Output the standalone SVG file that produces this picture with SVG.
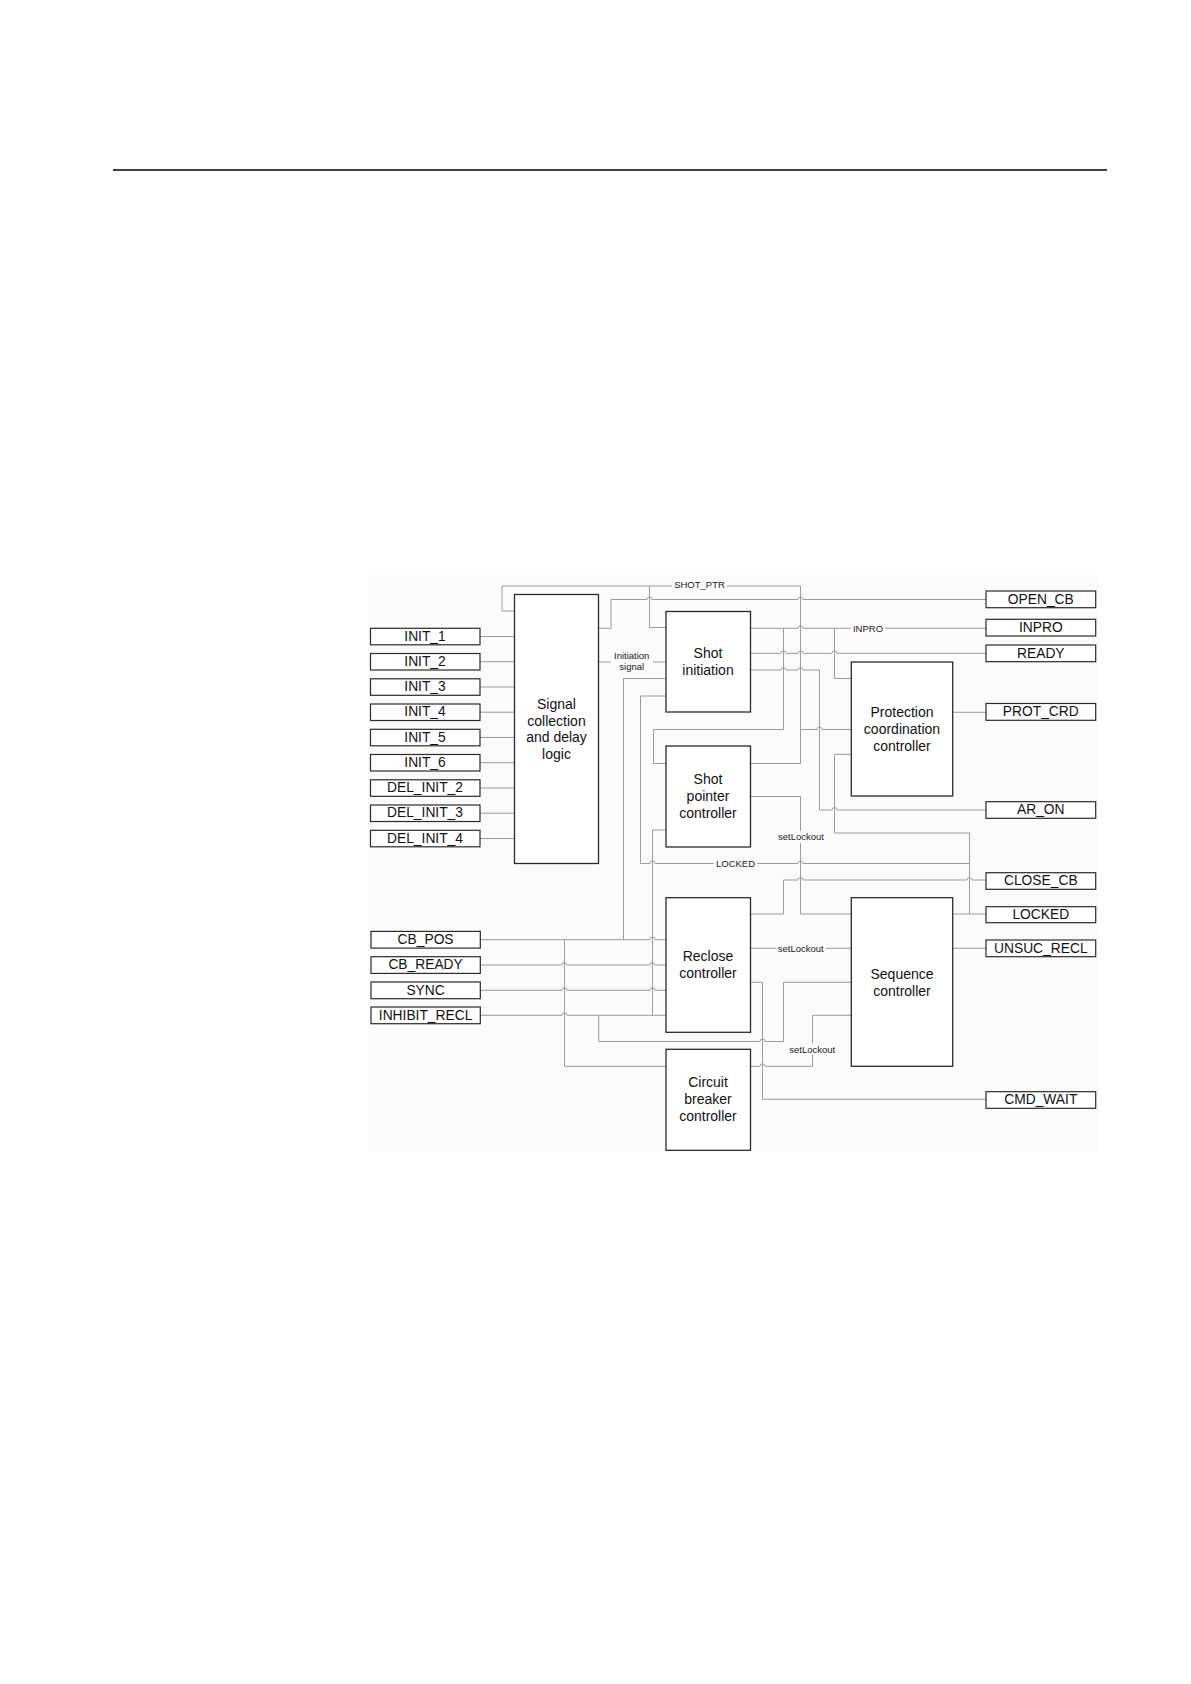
<svg xmlns="http://www.w3.org/2000/svg" width="1191" height="1684" viewBox="0 0 1191 1684">
<style>
.t{font-family:"Liberation Sans",Arial,sans-serif;font-size:14px;fill:#111;text-anchor:middle}
.io-t{font-family:"Liberation Sans",Arial,sans-serif;font-size:13.8px;fill:#111;text-anchor:middle}
.s{font-family:"Liberation Sans",Arial,sans-serif;font-size:9.5px;fill:#222;text-anchor:middle}
.blk{fill:#fff;stroke:#2a2a2a;stroke-width:1.3}
.io{fill:#fff;stroke:#2a2a2a;stroke-width:1.2}
.w{fill:none;stroke:#9c9c9c;stroke-width:1}
.bg{fill:#fbfbfb}
</style>
<rect width="1191" height="1684" fill="#fff"/>
<line x1="113" y1="170" x2="1107" y2="170" stroke="#000" stroke-width="1.6"/>
<rect class="bg" x="368" y="575" width="730" height="577"/>

<g id="connectors">
<path class="w" d="M480 636.5H514.5M480 661.7H514.5M480 687H514.5M480 712.2H514.5M480 737.5H514.5M480 762.7H514.5M480 788H514.5M480 813.2H514.5M480 838.5H514.5"/>
<path class="w" d="M750.5 763.5H800.5V586H502V611H514.5"/>
<path class="w" d="M649.5 586V627.5H666"/>
<path class="w" d="M800.5 729.5H817a2.5 2.5 0 0 1 5 0H851.3"/>
<path class="w" d="M598.7 628.3H611V599.5H647a2.5 2.5 0 0 1 5 0H798a2.5 2.5 0 0 1 5 0H986"/>
<path class="w" d="M598.7 662H666"/>
<path class="w" d="M750.5 628.3H798a2.5 2.5 0 0 1 5 0H986"/>
<path class="w" d="M783.5 628.3V729.5H653.5V763.5H666"/>
<path class="w" d="M834.5 628.3V678.5H851.3"/>
<path class="w" d="M750.5 653.3H781a2.5 2.5 0 0 1 5 0H798a2.5 2.5 0 0 1 5 0H832a2.5 2.5 0 0 1 5 0H986"/>
<path class="w" d="M750.5 670H781a2.5 2.5 0 0 1 5 0H798a2.5 2.5 0 0 1 5 0H819.5V810H832a2.5 2.5 0 0 1 5 0H986"/>
<path class="w" d="M952.7 712.3H986"/>
<path class="w" d="M952.7 914H986M969.5 914V833H834.5V754.3H851.3"/>
<path class="w" d="M666 696H640.5V863.5H650a2.5 2.5 0 0 1 5 0H798a2.5 2.5 0 0 1 5 0H969.5"/>
<path class="w" d="M750.5 796.5H800.5V914H851.3"/>
<path class="w" d="M750.5 914H783.5V880H798a2.5 2.5 0 0 1 5 0H967a2.5 2.5 0 0 1 5 0H986"/>
<path class="w" d="M952.7 948.3H986"/>
<path class="w" d="M750.5 948.3H851.3"/>
<path class="w" d="M750.5 982.3H762.5V1099.3H986"/>
<path class="w" d="M666 830H652.5V1015.3"/>
<path class="w" d="M480.3 939.7H650a2.5 2.5 0 0 1 5 0H666"/>
<path class="w" d="M564.5 939.7V1066.3H666"/>
<path class="w" d="M623.5 939.7V678.5H666"/>
<path class="w" d="M480.3 965H562a2.5 2.5 0 0 1 5 0H650a2.5 2.5 0 0 1 5 0H666"/>
<path class="w" d="M480.3 990.3H562a2.5 2.5 0 0 1 5 0H650a2.5 2.5 0 0 1 5 0H666"/>
<path class="w" d="M480.3 1015.3H562a2.5 2.5 0 0 1 5 0H666"/>
<path class="w" d="M598.7 1015.3V1041.5H760a2.5 2.5 0 0 1 5 0H783.5V982.3H851.3"/>
<path class="w" d="M750.5 1066.3H760a2.5 2.5 0 0 1 5 0H812.5V1015.3H851.3"/>
<rect class="bg" x="672" y="579" width="55" height="11"/>
<text class="s" x="699.5" y="587.5">SHOT_PTR</text>
<rect class="bg" x="611" y="650" width="42" height="23"/>
<text class="s" x="631.7" y="659">Initiation</text>
<text class="s" x="631.7" y="670">signal</text>
<rect class="bg" x="851" y="623" width="34" height="10"/>
<text class="s" x="868" y="631.5">INPRO</text>
<rect class="bg" x="714" y="858" width="43" height="11"/>
<text class="s" x="735.5" y="867">LOCKED</text>
<rect class="bg" x="776" y="831" width="50" height="12"/>
<text class="s" x="801" y="840">setLockout</text>
<rect class="bg" x="776" y="943" width="50" height="11"/>
<text class="s" x="800.7" y="951.5">setLockout</text>
<rect class="bg" x="787" y="1043" width="51" height="12"/>
<text class="s" x="812.3" y="1052.5">setLockout</text>
</g>

<g id="signal-collection"><rect class="blk" x="514.5" y="594.5" width="84" height="269"/>
<text class="t" x="556.5" y="709">Signal</text><text class="t" x="556.5" y="725.5">collection</text><text class="t" x="556.5" y="742">and delay</text><text class="t" x="556.5" y="759">logic</text></g>
<g id="shot-initiation"><rect class="blk" x="666" y="611.5" width="84.5" height="100.5"/>
<text class="t" x="708" y="658">Shot</text><text class="t" x="708" y="675">initiation</text></g>
<g id="shot-pointer"><rect class="blk" x="666" y="746" width="84.5" height="101"/>
<text class="t" x="708" y="784">Shot</text><text class="t" x="708" y="801">pointer</text><text class="t" x="708" y="818">controller</text></g>
<g id="reclose"><rect class="blk" x="666" y="897.7" width="84.5" height="134.6"/>
<text class="t" x="708" y="961">Reclose</text><text class="t" x="708" y="978">controller</text></g>
<g id="circuit-breaker"><rect class="blk" x="666" y="1049.3" width="84.5" height="101"/>
<text class="t" x="708" y="1087">Circuit</text><text class="t" x="708" y="1104">breaker</text><text class="t" x="708" y="1121">controller</text></g>
<g id="protection"><rect class="blk" x="851.3" y="662" width="101.4" height="134"/>
<text class="t" x="902" y="717">Protection</text><text class="t" x="902" y="734">coordination</text><text class="t" x="902" y="751">controller</text></g>
<g id="sequence"><rect class="blk" x="851.3" y="897.7" width="101.4" height="168.6"/>
<text class="t" x="902" y="978.5">Sequence</text><text class="t" x="902" y="995.5">controller</text></g>

<g id="in-INIT_1"><rect class="io" x="370.5" y="628.3" width="109.5" height="16.5"/><text class="io-t" x="425" y="640.7">INIT_1</text></g>
<g id="in-INIT_2"><rect class="io" x="370.5" y="653.5" width="109.5" height="16.5"/><text class="io-t" x="425" y="665.9">INIT_2</text></g>
<g id="in-INIT_3"><rect class="io" x="370.5" y="678.8" width="109.5" height="16.5"/><text class="io-t" x="425" y="691.2">INIT_3</text></g>
<g id="in-INIT_4"><rect class="io" x="370.5" y="704" width="109.5" height="16.5"/><text class="io-t" x="425" y="716.4">INIT_4</text></g>
<g id="in-INIT_5"><rect class="io" x="370.5" y="729.3" width="109.5" height="16.5"/><text class="io-t" x="425" y="741.7">INIT_5</text></g>
<g id="in-INIT_6"><rect class="io" x="370.5" y="754.5" width="109.5" height="16.5"/><text class="io-t" x="425" y="766.9">INIT_6</text></g>
<g id="in-DEL_INIT_2"><rect class="io" x="370.5" y="779.8" width="109.5" height="16.5"/><text class="io-t" x="425" y="792.2">DEL_INIT_2</text></g>
<g id="in-DEL_INIT_3"><rect class="io" x="370.5" y="805" width="109.5" height="16.5"/><text class="io-t" x="425" y="817.4">DEL_INIT_3</text></g>
<g id="in-DEL_INIT_4"><rect class="io" x="370.5" y="830.3" width="109.5" height="16.5"/><text class="io-t" x="425" y="842.7">DEL_INIT_4</text></g>
<g id="in-CB_POS"><rect class="io" x="371" y="931.4" width="109.3" height="16.7"/><text class="io-t" x="425.6" y="943.9">CB_POS</text></g>
<g id="in-CB_READY"><rect class="io" x="371" y="956.7" width="109.3" height="16.7"/><text class="io-t" x="425.6" y="969.2">CB_READY</text></g>
<g id="in-SYNC"><rect class="io" x="371" y="982" width="109.3" height="16.7"/><text class="io-t" x="425.6" y="994.5">SYNC</text></g>
<g id="in-INHIBIT_RECL"><rect class="io" x="371" y="1007" width="109.3" height="16.7"/><text class="io-t" x="425.6" y="1019.5">INHIBIT_RECL</text></g>

<g id="out-OPEN_CB"><rect class="io" x="986" y="591" width="109.7" height="16.7"/><text class="io-t" x="1040.8" y="603.5">OPEN_CB</text></g>
<g id="out-INPRO"><rect class="io" x="986" y="619.3" width="109.7" height="16.7"/><text class="io-t" x="1040.8" y="631.9">INPRO</text></g>
<g id="out-READY"><rect class="io" x="986" y="645" width="109.7" height="16.7"/><text class="io-t" x="1040.8" y="657.5">READY</text></g>
<g id="out-PROT_CRD"><rect class="io" x="986" y="703.5" width="109.7" height="16.8"/><text class="io-t" x="1040.8" y="716.2">PROT_CRD</text></g>
<g id="out-AR_ON"><rect class="io" x="986" y="801.7" width="109.7" height="16.6"/><text class="io-t" x="1040.8" y="814.2">AR_ON</text></g>
<g id="out-CLOSE_CB"><rect class="io" x="986" y="872.7" width="109.7" height="16.6"/><text class="io-t" x="1040.8" y="885.2">CLOSE_CB</text></g>
<g id="out-LOCKED"><rect class="io" x="986" y="906.7" width="109.7" height="16"/><text class="io-t" x="1040.8" y="918.9">LOCKED</text></g>
<g id="out-UNSUC_RECL"><rect class="io" x="986" y="940" width="109.7" height="16.7"/><text class="io-t" x="1040.8" y="952.5">UNSUC_RECL</text></g>
<g id="out-CMD_WAIT"><rect class="io" x="986" y="1091.7" width="109.7" height="16.6"/><text class="io-t" x="1040.8" y="1104.2">CMD_WAIT</text></g>
</svg>
